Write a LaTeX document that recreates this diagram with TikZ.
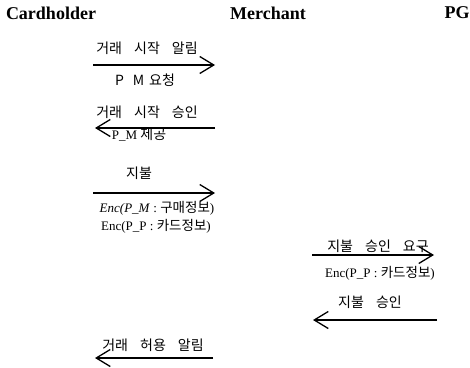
\documentclass[tikz,border=0pt]{standalone}
\usepackage{fontspec}
\setmainfont{Liberation Serif}
\newfontfamily\kr{Noto Sans CJK KR}
\usetikzlibrary{arrows.meta}
% wide gap between Korean words
\newcommand{\wgap}{\hspace{12pt}}

\begin{document}
\begin{tikzpicture}[x=1pt,y=-1pt,
  party/.style={font=\fontsize{18}{20}\selectfont\bfseries, inner sep=0pt},
  lbl/.style={font=\fontsize{14}{16}\kr, inner sep=0pt},
  enc/.style={font=\fontsize{13}{15}\selectfont, inner sep=0pt},
  msg/.style={line width=1.3pt,
    -{Straight Barb[length=14pt,width=17pt,line width=1.3pt]}}
]
\useasboundingbox (0,0) rectangle (470,367);

% participants
\node[party] (ch) at (51,13) {Cardholder};
\node[party] (me) at (268,13) {Merchant};
\node[party] (pg) at (457,13) {PG};

% message end points
\coordinate (a1s) at (93,65);   \coordinate (a1e) at (215,65);
\coordinate (a2s) at (215,128); \coordinate (a2e) at (95,128);
\coordinate (a3s) at (93,193);  \coordinate (a3e) at (215,193);
\coordinate (a4s) at (312,255); \coordinate (a4e) at (434,255);
\coordinate (a5s) at (437,320); \coordinate (a5e) at (313,320);
\coordinate (a6s) at (213,358); \coordinate (a6e) at (95,358);

% 1: transaction start notice
\node[lbl] (t1) at (147,48) {거래\wgap 시작\wgap 알림};
\draw[msg] (a1s) -- (a1e);
\node[lbl] (s1) at (145,80) {P\hspace{9pt}M\hspace{5pt}요청};

% 2: transaction start approval
\node[lbl] (t2) at (147,112) {거래\wgap 시작\wgap 승인};
\draw[msg] (a2s) -- (a2e);
\node[enc] (s2) at (139,135) {P\_M {\kr\fontsize{14}{16}\selectfont 제공}};

% 3: payment
\node[lbl] (t3) at (139,173) {지불};
\draw[msg] (a3s) -- (a3e);
\node[enc] (e31) at (157,208) {\textit{Enc(P\_M} : {\kr\fontsize{13.5}{15}\selectfont 구매정보})};
\node[enc] (e32) at (156,226) {Enc(P\_P : {\kr\fontsize{13.5}{15}\selectfont 카드정보})};

% 4: payment authorization request
\node[lbl] (t4) at (378,246) {지불\wgap 승인\wgap 요구};
\draw[msg] (a4s) -- (a4e);
\node[enc] (e4) at (380,273) {Enc(P\_P : {\kr\fontsize{13.5}{15}\selectfont 카드정보})};

% 5: payment authorization
\node[lbl] (t5) at (370,302) {지불\wgap 승인};
\draw[msg] (a5s) -- (a5e);

% 6: transaction accepted notice
\node[lbl] (t6) at (153,345) {거래\wgap 허용\wgap 알림};
\draw[msg] (a6s) -- (a6e);
\end{tikzpicture}
\end{document}
